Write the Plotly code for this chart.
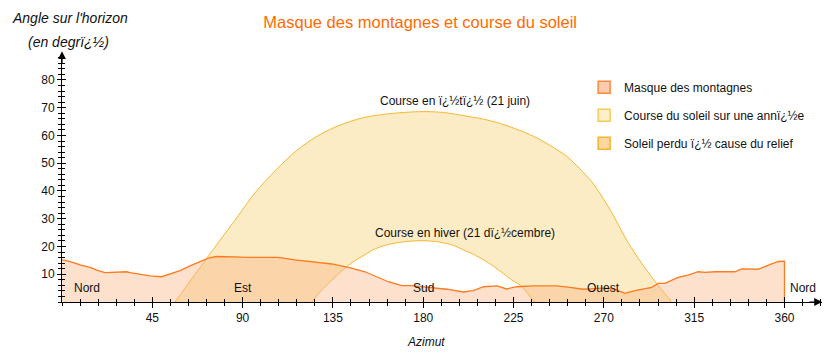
import plotly.graph_objects as go

# Mountain profile (azimuth in degrees, altitude in degrees)
mask_az = [0, 2.3, 6.5, 9, 14, 17.3, 21.4, 26.4, 32.2, 33.9, 38.9, 43.8, 49.7, 53.8, 58.8, 63.8,
           68.8, 72.9, 77, 85.4, 89.5, 92, 107.8, 116, 124.4, 134.4, 142.7, 151, 162.6, 169.3,
           174.2, 183.4, 191.7, 200, 205, 210, 216.6, 221.6, 226.6, 234.8, 246.5, 253.1, 259.7,
           265, 270, 275.5, 280.5, 285.5, 290.5, 293.8, 297.1, 300.4, 307, 312, 317, 320.4,
           325.4, 335.3, 338.7, 346.9, 353.6, 356.9, 360, 360]
mask_alt = [15.2, 14.9, 14, 13.4, 12.5, 11.5, 10.6, 10.7, 10.9, 10.6, 10.1, 9.4, 9.1, 10, 11.3, 13,
            14.6, 15.8, 16.4, 16.4, 16.2, 16.1, 16.1, 15.2, 14.6, 13.7, 12.5, 10.9, 7.3, 5.9,
            5.9, 5.3, 4.6, 3.6, 4.1, 5.5, 5.8, 4.7, 5.5, 5.8, 5.8, 5.3, 4.6,
            4.8, 5.0, 4.6, 3.1, 4.1, 4.9, 5.3, 6.7, 6.7, 8.9, 9.7, 10.9, 10.7,
            10.9, 10.9, 11.9, 11.8, 13.7, 14.6, 14.7, 0]

# Summer sun path (21 June)
summer_az = [56.3, 60, 65, 70, 75, 80, 85, 90, 95, 100, 105, 110, 115, 120, 125, 130, 137, 145,
             152, 160, 170, 180, 190, 202, 210, 218, 226, 235, 243, 251.5, 258, 264, 268, 272,
             276, 281.3, 286, 291, 296.3, 300, 303.3]
summer_alt = [0, 3.7, 8.7, 13.6, 18.6, 23.5, 28.3, 33.3, 38.3, 42.5, 46.4, 50.0, 53.4, 56.3, 58.8,
              60.9, 63.3, 65.4, 66.7, 67.6, 68.3, 68.6, 68.3, 66.9, 65.9, 64.4, 62.4, 59.7, 56.5,
              52.5, 48.0, 43.3, 39.2, 34.6, 29.5, 22.4, 17, 11.8, 6.7, 3.3, 0]

# Winter sun path (21 December)
winter_az = [124.4, 128, 132, 136, 141.8, 146, 150, 155, 160, 165, 171.7, 180, 188, 195, 200, 205,
             210, 215, 220, 224, 228.2, 232, 235.7]
winter_alt = [0, 3.2, 6.2, 8.9, 12.7, 14.9, 16.6, 18.8, 20.2, 21.1, 21.8, 22.1, 21.6, 20.4, 18.8,
              17.2, 15.2, 12.9, 10.2, 8.0, 6.1, 3.2, 0]

x_major = [45, 90, 135, 180, 225, 270, 315, 360]
x_labels = ["45", "90", "135", "180", "225", "270", "315", "360"]
y_major = [10, 20, 30, 40, 50, 60, 70, 80]

directions = ["Nord", "Est", "Sud", "Ouest", "Nord"]
dir_az = [5, 90, 180, 270, 362]
dir_anchor = ["left", "center", "center", "center", "left"]

legend_names = ["Masque des montagnes", "Course du soleil sur une ann\u00ef\u00bf\u00bde",
                "Soleil perdu \u00ef\u00bf\u00bd cause du relief"]

FONT = "Liberation Sans, Arial, sans-serif"
X_MAX = 378.7
Y_MAX = 89

fig = go.Figure()

# Sun course band between winter and summer paths
band_x = summer_az + winter_az[::-1]
band_y = summer_alt + winter_alt[::-1]
fig.add_trace(go.Scatter(x=band_x, y=band_y, mode="lines", fill="toself",
                         fillcolor="rgba(247,200,90,0.35)",
                         line=dict(color="#f5b730", width=1, shape="spline", smoothing=0.8),
                         showlegend=False, hoverinfo="skip"))

# Mountain mask
fig.add_trace(go.Scatter(x=mask_az, y=mask_alt, mode="lines", fill="tozeroy",
                         fillcolor="rgba(250,179,131,0.40)",
                         line=dict(color="#ff7a1f", width=1.3), showlegend=False,
                         hoverinfo="skip"))

# Legend entries
leg_fill = ["#fdcbb0", "#fdf0c8", "#fdd6a0"]
leg_line = ["#fb8a3c", "#f7c95a", "#f5b52a"]
for i, name in enumerate(legend_names):
    fig.add_trace(go.Scatter(x=[None], y=[None], mode="markers", name=name,
                             legendgroup=f"g{i}",
                             marker=dict(symbol="square", size=12, color=leg_fill[i],
                                         line=dict(color=leg_line[i], width=1.5))))

# dummy trace for overlay axes (inside ticks)
fig.add_trace(go.Scatter(x=[None], y=[None], xaxis="x2", yaxis="y2", showlegend=False,
                         hoverinfo="skip"))

annotations = []
for name, az, anc in zip(directions, dir_az, dir_anchor):
    annotations.append(dict(x=az, y=5, xref="x", yref="y", text=name, showarrow=False,
                            xanchor=anc, yanchor="middle",
                            font=dict(family=FONT, size=12, color="#111")))
annotations.append(dict(x=157.5, y=72.3, xref="x", yref="y",
                        text="Course en \u00ef\u00bf\u00bdt\u00ef\u00bf\u00bd (21 juin)",
                        showarrow=False, xanchor="left", yanchor="middle",
                        font=dict(family=FONT, size=12, color="#111")))
annotations.append(dict(x=155, y=24.9, xref="x", yref="y",
                        text="Course en hiver (21 d\u00ef\u00bf\u00bdcembre)",
                        showarrow=False, xanchor="left", yanchor="middle",
                        font=dict(family=FONT, size=12, color="#111")))
annotations.append(dict(x=0.0099, y=1.15, xref="paper", yref="paper",
                        text="<i>Angle sur l'horizon</i>", showarrow=False,
                        xanchor="center", yanchor="middle",
                        font=dict(family=FONT, size=14, color="#111")))
annotations.append(dict(x=0.0092, y=1.053, xref="paper", yref="paper",
                        text="<i>(en degr\u00ef\u00bf\u00bd)</i>", showarrow=False,
                        xanchor="center", yanchor="middle",
                        font=dict(family=FONT, size=14, color="#111")))
annotations.append(dict(x=0.479, y=-0.162, xref="paper", yref="paper",
                        text="<i>Azimut</i>", showarrow=False,
                        xanchor="center", yanchor="middle",
                        font=dict(family=FONT, size=12, color="#111")))
# axis arrows
annotations.append(dict(x=0, y=1.015, xref="paper", yref="paper", ax=0, ay=14,
                        showarrow=True, arrowhead=2, arrowsize=1.3, arrowwidth=1.2,
                        arrowcolor="black", text=""))
annotations.append(dict(x=1.0, y=0, xref="paper", yref="paper", ax=-14, ay=0,
                        showarrow=True, arrowhead=2, arrowsize=1.3, arrowwidth=1.2,
                        arrowcolor="black", text=""))

axis_common = dict(showgrid=False, zeroline=False, showline=True, linecolor="black",
                   linewidth=1)

fig.update_layout(
    width=837, height=359,
    margin=dict(l=62, r=15, t=55, b=57),
    plot_bgcolor="white", paper_bgcolor="white",
    font=dict(family=FONT, size=12, color="#111"),
    title=dict(text="Masque des montagnes et course du soleil", x=0.502, y=0.939,
               xanchor="center", yanchor="middle",
               font=dict(family=FONT, size=16.5, color="#ff6a00")),
    xaxis=dict(range=[0, X_MAX], tickvals=x_major, ticktext=x_labels, ticks="outside",
               ticklen=5, tickcolor="black", tickwidth=1,
               minor=dict(dtick=9, tick0=0, ticks="outside", ticklen=3, tickcolor="black"),
               tickfont=dict(family=FONT, size=12, color="#111"), **axis_common),
    xaxis2=dict(range=[0, X_MAX], overlaying="x", anchor="y", side="bottom",
                tickvals=x_major, showticklabels=False, ticks="inside", ticklen=5,
                tickcolor="black",
                minor=dict(dtick=9, tick0=0, ticks="inside", ticklen=3, tickcolor="black"),
                **axis_common),
    yaxis=dict(range=[0, Y_MAX], tickvals=y_major, ticks="outside", ticklen=4,
               tickcolor="black",
               minor=dict(dtick=2, tick0=0, ticks="outside", ticklen=3, tickcolor="black"),
               tickfont=dict(family=FONT, size=12, color="#111"), **axis_common),
    yaxis2=dict(range=[0, Y_MAX], overlaying="y", anchor="x", side="left",
                tickvals=y_major, showticklabels=False, ticks="inside", ticklen=4,
                tickcolor="black",
                minor=dict(dtick=2, tick0=0, ticks="inside", ticklen=3, tickcolor="black"),
                **axis_common),
    legend=dict(x=0.687, y=0.928, xanchor="left", yanchor="top", traceorder="grouped",
                tracegroupgap=9, bgcolor="rgba(0,0,0,0)",
                font=dict(family=FONT, size=12, color="#111")),
    annotations=annotations,
    showlegend=True,
)

fig.write_html("out.html", config={"displayModeBar": False},
               post_script="document.body.style.margin='0';")
